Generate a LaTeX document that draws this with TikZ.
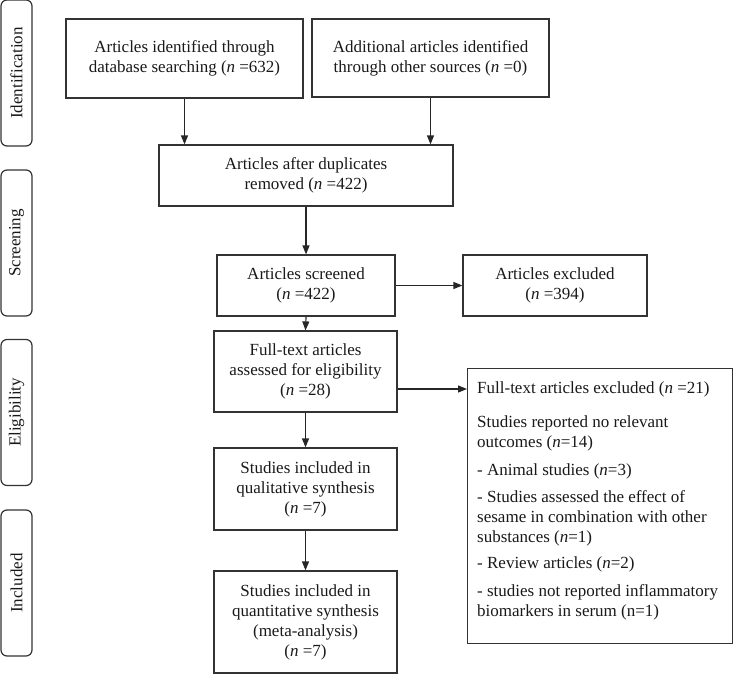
\documentclass[tikz,border=0pt]{standalone}
\usepackage{fontspec}
\setmainfont{Liberation Serif}
\usetikzlibrary{arrows.meta}

\begin{document}
\begin{tikzpicture}[x=1pt, y=-1pt,
    every node/.style={font=\fontsize{17}{20}\selectfont, text=black!90},
    box/.style={draw=black!80, line width=1.2pt, align=center, inner sep=0pt},
    stage/.style={draw=black!80, line width=1.2pt, rounded corners=6pt, rotate=90,
      minimum width=146pt, minimum height=31pt, inner sep=0pt},
    arr/.style={draw=black!85, line width=1.2pt, -{Triangle[length=9pt,width=7pt]}}]
  \useasboundingbox (0,0) rectangle (734,675);
  \node[stage] (ident) at (16.5,73) {Identification};
  \node[stage] (screen) at (16.5,243) {Screening};
  \node[stage] (elig) at (16.5,412.5) {Eligibility};
  \node[stage] (incl) at (16.5,583) {Included};
  \node[box, minimum width=237pt, minimum height=79pt] (found) at (184.5,58.5)
    {Articles identified through\\database searching (\textit{n} =632)};
  \node[box, minimum width=237pt, minimum height=78pt] (other) at (430.5,58)
    {Additional articles identified\\through other sources (\textit{n} =0)};
  \node[box, minimum width=294pt, minimum height=61pt] (dedup) at (306,175.5)
    {Articles after duplicates\\removed (\textit{n} =422)};
  \node[box, minimum width=178pt, minimum height=61pt] (screened) at (306,285.5)
    {Articles screened\\(\textit{n} =422)};
  \node[box, minimum width=184pt, minimum height=61pt] (excl) at (555,285.5)
    {Articles excluded\\(\textit{n} =394)};
  \node[box, minimum width=183pt, minimum height=81pt] (fulltext) at (305.5,371.5)
    {Full-text articles\\assessed for eligibility\\(\textit{n} =28)};
  \node[box, minimum width=183pt, minimum height=82pt] (quali) at (305.5,489)
    {Studies included in\\qualitative synthesis\\(\textit{n} =7)};
  \node[box, minimum width=183pt, minimum height=102pt] (quanti) at (305.5,622)
    {Studies included in\\quantitative synthesis\\(meta-analysis)\\(\textit{n} =7)};
  \node[box, anchor=north west, minimum width=265pt, minimum height=275pt] (ftexcl) at (467,368) {};
  \node[anchor=north west, align=left, inner sep=0pt] (ftlist) at (477,381)
    {Full-text articles excluded (\textit{n} =21)\\[14pt]
     Studies reported no relevant\\
     outcomes (\textit{n}=14)\\[8pt]
     - Animal studies (\textit{n}=3)\\[7pt]
     - Studies assessed the effect of\\
     sesame in combination with other\\
     substances (\textit{n}=1)\\[6pt]
     - Review articles (\textit{n}=2)\\[8pt]
     - studies not reported inflammatory\\
     biomarkers in serum (n=1)};
  \coordinate (ftout) at ([yshift=-17.5pt]fulltext.east);
  \draw[arr] (found.south) -- (found.south |- dedup.north);
  \draw[arr] (other.south) -- (other.south |- dedup.north);
  \draw[arr] (dedup.south) -- (screened.north);
  \draw[arr] (screened.east) -- (excl.west);
  \draw[arr] (screened.south) -- (fulltext.north);
  \draw[arr] (ftout) -- (ftout -| ftexcl.west);
  \draw[arr] (fulltext.south) -- (quali.north);
  \draw[arr] (quali.south) -- (quanti.north);
\end{tikzpicture}
\end{document}
